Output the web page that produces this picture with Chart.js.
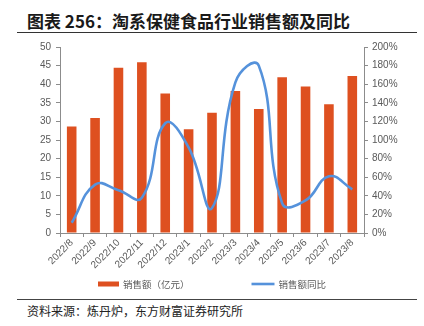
<!DOCTYPE html>
<html>
<head>
<meta charset="utf-8">
<script src="https://cdn.jsdelivr.net/npm/chart.js@4.4.1/dist/chart.umd.min.js"></script>
<style>
  html, body { margin: 0; padding: 0; background: #fff; }
  #page { position: relative; width: 424px; height: 326px; overflow: hidden; }
  #title { position: absolute; left: 27px; top: 11px; font: bold 17px "Noto Sans CJK SC", sans-serif; color: #1a1a1a; white-space: nowrap; line-height: 19px; }
  #rule1 { position: absolute; left: 17px; top: 32px; width: 400px; height: 0; border-top: 1.5px solid #333; }
  #rule2 { position: absolute; left: 17px; top: 299px; width: 400px; height: 0; border-top: 1.5px solid #444; }
  #source { position: absolute; left: 27px; top: 304px; font: 12px "Noto Sans CJK SC", sans-serif; color: #222; white-space: nowrap; line-height: 14px; }
  #wrap { position: absolute; left: 0; top: 36px; width: 424px; height: 262px; }
</style>
</head>
<body>
<div id="page">
  <div id="title">图表 256：淘系保健食品行业销售额及同比</div>
  <div id="rule1"></div>
  <div id="wrap"><canvas id="c" width="424" height="262"></canvas></div>
  <div id="rule2"></div>
  <div id="source">资料来源：炼丹炉，东方财富证券研究所</div>
</div>
<script>
// Monthly categories
const months = ['2022/8','2022/9','2022/10','2022/11','2022/12','2023/1','2023/2','2023/3','2023/4','2023/5','2023/6','2023/7','2023/8'];
// Sales, 100 million yuan
const sales = [28.6, 30.9, 44.4, 45.9, 37.5, 27.9, 32.3, 38.2, 33.3, 41.9, 39.4, 34.6, 42.2];
// Year-on-year growth, percent
const yoy = [11, 52, 46, 38, 118, 92, 27, 162, 180, 32, 35, 61, 47];
// Axis ticks
const leftTicks = { min: 0, max: 50, step: 5 };
const rightTicks = { min: 0, max: 200, step: 20 };

const BAR = '#DE5020';
const LINE = '#5592DB';
const GREY = '#595959';
const AXIS = '#8C8C8C';
const FONT = '"Liberation Sans", "Noto Sans CJK SC", sans-serif';

// Legend row drawn under the rotated month labels
const bottomLegend = {
  id: 'bottomLegend',
  afterDraw(chart) {
    const ctx = chart.ctx;
    const sets = chart.data.datasets;
    ctx.save();
    ctx.font = '9.5px "Noto Sans CJK SC", sans-serif';
    ctx.textBaseline = 'middle';
    const y = 248;
    const gap = 62;
    const items = sets.map(ds => ({
      ds,
      sw: ds.type === 'bar' ? 21 : 23,
      tw: ctx.measureText(ds.label).width
    }));
    let total = items.reduce((a, it) => a + it.sw + 4 + it.tw, 0) + gap * (items.length - 1);
    let x = (chart.chartArea.left + chart.chartArea.right) / 2 - total / 2;
    items.forEach(it => {
      if (it.ds.type === 'bar') {
        ctx.fillStyle = it.ds.backgroundColor;
        ctx.fillRect(x, y - 2.5, it.sw, 5);
      } else {
        ctx.strokeStyle = it.ds.borderColor;
        ctx.lineWidth = 2.6;
        ctx.beginPath();
        ctx.moveTo(x, y);
        ctx.lineTo(x + it.sw, y);
        ctx.stroke();
      }
      ctx.fillStyle = GREY;
      ctx.fillText(it.ds.label, x + it.sw + 4, y);
      x += it.sw + 4 + it.tw + gap;
    });
    ctx.restore();
  }
};

new Chart(document.getElementById('c'), {
  data: {
    labels: months,
    datasets: [
      {
        type: 'bar', label: '销售额（亿元）', data: sales, yAxisID: 'y',
        backgroundColor: BAR, barPercentage: 0.41, categoryPercentage: 1, order: 1
      },
      {
        type: 'line', label: '销售额同比', data: yoy, yAxisID: 'y1',
        borderColor: LINE, borderWidth: 2.6, pointRadius: 0, tension: 0.45,
        fill: false, order: 0
      }
    ]
  },
  plugins: [bottomLegend],
  options: {
    responsive: false,
    animation: false,
    layout: { padding: { top: 4, left: 0, right: 0, bottom: 23 } },
    plugins: {
      tooltip: { enabled: false },
      legend: { display: false }
    },
    scales: {
      x: {
        grid: { drawOnChartArea: false, drawTicks: true, tickLength: 4, color: AXIS, offset: true },
        border: { display: true, color: AXIS, width: 1 },
        ticks: { color: GREY, font: { family: FONT, size: 10 }, minRotation: 45, maxRotation: 45, padding: 0, autoSkip: false },
        afterFit(s) { s.height = 42; }
      },
      y: {
        position: 'left', min: leftTicks.min, max: leftTicks.max,
        grid: { drawOnChartArea: false, drawTicks: true, tickLength: 4, color: AXIS },
        border: { display: true, color: AXIS, width: 1 },
        ticks: { stepSize: leftTicks.step, color: GREY, font: { family: FONT, size: 10 }, padding: 5 },
        afterFit(s) { s.width = 60; }
      },
      y1: {
        position: 'right', min: rightTicks.min, max: rightTicks.max,
        grid: { drawOnChartArea: false, drawTicks: true, tickLength: 4, color: AXIS },
        border: { display: true, color: AXIS, width: 1 },
        ticks: { stepSize: rightTicks.step, color: GREY, font: { family: FONT, size: 10 }, padding: 4, callback: v => v + '%' },
        afterFit(s) { s.width = 60; }
      }
    }
  }
});
</script>
</body>
</html>
